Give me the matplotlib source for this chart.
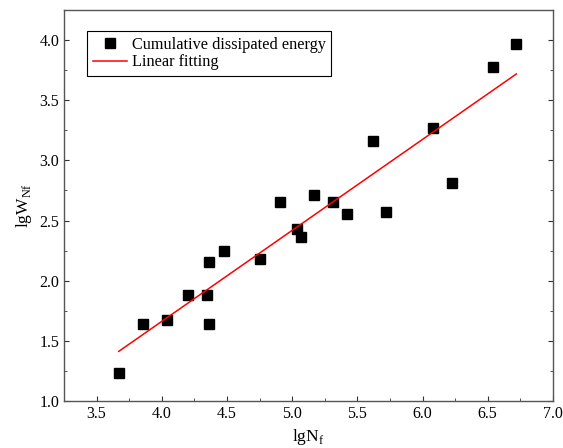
import numpy as np
import matplotlib.pyplot as plt

plt.rcParams['font.family'] = ['Liberation Serif', 'DejaVu Serif']
plt.rcParams['mathtext.fontset'] = 'custom'
plt.rcParams['mathtext.rm'] = 'Liberation Serif'

# lg of fatigue life vs lg of cumulative dissipated energy
lg_nf = [3.67, 3.855, 4.04, 4.20, 4.35, 4.36, 4.36, 4.48, 4.75, 4.91, 5.035,
         5.07, 5.166, 5.31, 5.42, 5.62, 5.72, 6.08, 6.23, 6.54, 6.72]
lg_wnf = [1.23, 1.64, 1.67, 1.88, 1.88, 2.155, 1.64, 2.25, 2.18, 2.655, 2.43,
          2.36, 2.71, 2.655, 2.555, 3.16, 2.57, 3.27, 2.81, 3.78, 3.97]

x = np.array(lg_nf)
y = np.array(lg_wnf)
k, b = np.polyfit(x, y, 1)
xf = np.array([x.min(), x.max()])

fig = plt.figure(figsize=(5.63, 4.48), dpi=100)
ax = fig.add_axes([0.1137, 0.1049, 0.982 - 0.1137, 0.9777 - 0.1049])

ax.plot(x, y, 's', color='black', ms=7.8, label='Cumulative dissipated energy')
ax.plot(xf, k * xf + b, color='red', lw=1.1, label='Linear fitting')

ax.set_xlim(3.25, 7.0)
ax.set_ylim(1.0, 4.25)
ax.set_xticks(np.arange(3.5, 7.01, 0.5))
ax.set_yticks(np.arange(1.0, 4.01, 0.5))
ax.set_xticks(np.arange(3.25, 7.01, 0.25), minor=True)
ax.set_yticks(np.arange(1.0, 4.26, 0.25), minor=True)
ax.xaxis.set_major_formatter(plt.FormatStrFormatter('%.1f'))
ax.yaxis.set_major_formatter(plt.FormatStrFormatter('%.1f'))
ax.tick_params(which='both', direction='in', right=True, top=False,
               labelsize=11.5, colors='#333333', labelcolor='black')
ax.tick_params(which='major', length=3.5, width=0.8)
ax.tick_params(which='minor', length=2, width=0.6)
for s in ax.spines.values():
    s.set_color('#555555')
    s.set_linewidth(1.0)

ax.set_xlabel(r'lgN$_\mathregular{f}$', fontsize=12.5)
ax.set_ylabel(r'lgW$_\mathregular{Nf}$', fontsize=12.5)

leg = ax.legend(loc='upper left', bbox_to_anchor=(0.047, 0.946), fontsize=11.7,
                frameon=True, fancybox=False, edgecolor='black', framealpha=1,
                handlelength=2.1, borderaxespad=0, borderpad=0.35,
                labelspacing=0.1, handletextpad=0.3)
leg.get_frame().set_linewidth(0.8)

fig.savefig('out.png', dpi=100)
